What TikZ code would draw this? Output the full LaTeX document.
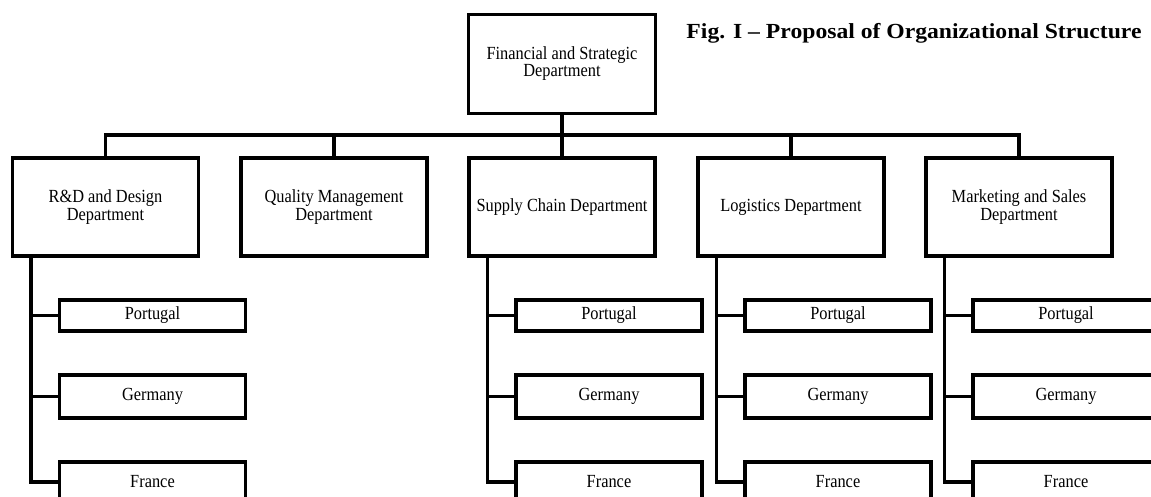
\documentclass[tikz,border=0pt]{standalone}
\usepackage{fontspec}
\setmainfont{Liberation Serif}
\newfontfamily\boxfont[FakeStretch=0.885,Ligatures=TeX]{Liberation Serif}
\newfontfamily\titlefont[FakeStretch=1.1,Ligatures=TeX]{Liberation Serif}
\begin{document}
\begin{tikzpicture}[x=1pt,y=-1pt,
  box/.style={draw=black,line width=3.2pt,inner sep=0pt,align=center,
    font=\boxfont\fontsize{18.5}{15.5}\selectfont},
  deptbox/.style={box,minimum width=186pt,minimum height=98pt},
  subbox/.style={box,minimum width=186pt},
  conn/.style={draw=black,line width=3.2pt}]
\clip (0,0) rectangle (1151,497);
\fill[white] (0,0) rectangle (1151,497);

\node[deptbox,minimum width=187pt,minimum height=99pt] (top) at (562,64) {Financial and Strategic\\Department};
\node[font=\titlefont\bfseries\fontsize{21.5}{24}\selectfont,inner sep=0pt] (title) at (914,33) {Fig. I – Proposal of Organizational Structure};

\coordinate (bus) at (0,135);

\node[deptbox] (rd) at (105.5,207) {R\&D and Design\\Department};
\node[deptbox] (ql) at (334,207) {Quality Management\\Department};
\node[deptbox] (sc) at (562,207) {Supply Chain Department};
\node[deptbox] (lg) at (791,207) {Logistics Department};
\node[deptbox] (mk) at (1019,207) {Marketing and Sales\\Department};

\draw[conn] (top.south) -- (top.south |- bus);
\draw[conn] (rd.north) -- (rd.north |- bus) -- (mk.north |- bus) -- (mk.north);
\foreach \n in {ql,sc,lg} \draw[conn] (\n.north) -- (\n.north |- bus);

\foreach \n/\x in {rd/105.5,sc/562,lg/791,mk/1019}{
  \node[subbox,minimum height=31pt] (\n P) at (\x+47,315.5) {Portugal};
  \node[subbox,minimum height=43pt] (\n G) at (\x+47,396.5) {Germany};
  \node[subbox,minimum height=40pt] (\n F) at (\x+47,482) {France};
  \coordinate (\n S) at (\x-74.5,0);
  \draw[conn] (\n S |- \n.south) |- (\n F.west);
  \draw[conn] (\n P.west) -- (\n P.west -| \n S);
  \draw[conn] (\n G.west) -- (\n G.west -| \n S);
}
\end{tikzpicture}
\end{document}
